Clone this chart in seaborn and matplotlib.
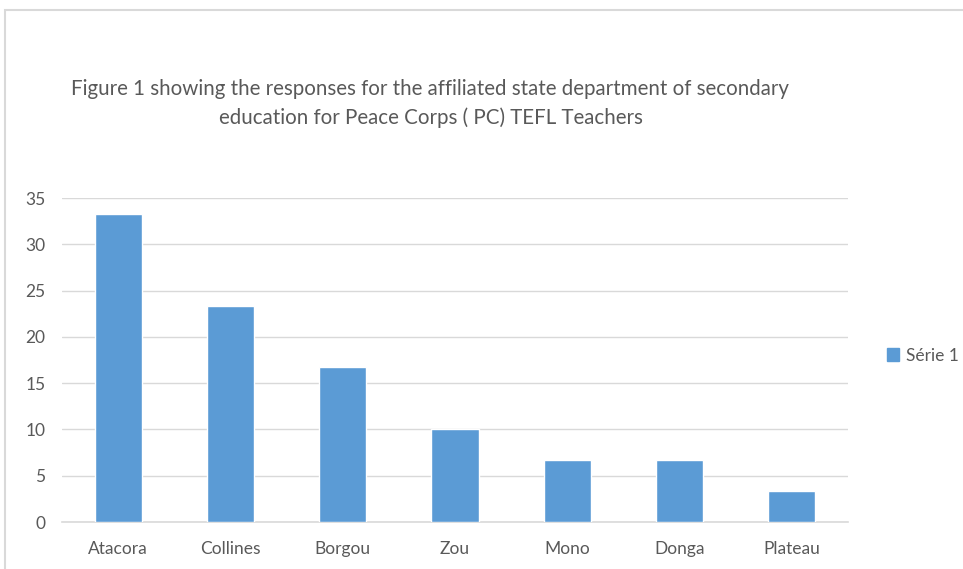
import matplotlib.pyplot as plt
import matplotlib.patches as mpatches
import seaborn as sns
import pandas as pd

departments = ['Atacora', 'Collines', 'Borgou', 'Zou', 'Mono', 'Donga', 'Plateau']
responses = [33.3, 23.3, 16.7, 10.0, 6.7, 6.7, 3.3]
series_name = 'Série 1'

sns.set_theme(style="white")
plt.rcParams['font.family'] = ['Lato', 'DejaVu Sans']

bar_color = '#5B9BD5'
text_color = '#595959'
grid_color = '#D9D9D9'

df = pd.DataFrame({'Department': departments, 'Value': responses})

fig = plt.figure(figsize=(9.63, 5.69), dpi=100)
ax = fig.add_axes([0.0644, 0.0826, 0.8162, 0.5694])

sns.barplot(data=df, x='Department', y='Value', color=bar_color,
            width=0.42, saturation=1, ax=ax, zorder=3)

ax.set_ylim(0, 35)
ax.set_xlim(-0.5, len(departments) - 0.5)
ax.set_yticks(range(0, 36, 5))
ax.yaxis.grid(True, color=grid_color, linewidth=1, zorder=0)
ax.set_axisbelow(True)
for side in ['left', 'right', 'top']:
    ax.spines[side].set_visible(False)
ax.spines['bottom'].set_color(grid_color)
ax.spines['bottom'].set_linewidth(1.2)
ax.set_xlabel('')
ax.set_ylabel('')
ax.tick_params(axis='both', colors=text_color, labelsize=12.5, length=0)
ax.tick_params(axis='x', pad=14)
ax.tick_params(axis='y', pad=12)

fig.text(0.447, 0.818,
         'Figure 1 showing the responses for the affiliated state department of secondary\n'
         'education for Peace Corps ( PC) TEFL Teachers',
         ha='center', va='center', fontsize=14.8, color=text_color, linespacing=1.5)

handle = mpatches.Patch(color=bar_color, label=series_name)
fig.legend(handles=[handle], loc='center left', bbox_to_anchor=(0.905, 0.375),
           frameon=False, fontsize=12.5, labelcolor=text_color,
           handlelength=0.7, handleheight=0.7, handletextpad=0.4)

# chart frame
fig.patches.append(mpatches.Rectangle((5 / 963, -0.05), 1.0, 1 - 10 / 569 + 0.05,
                                      transform=fig.transFigure, fill=False,
                                      edgecolor=grid_color, linewidth=1.5))

plt.savefig('out.png', dpi=100)
